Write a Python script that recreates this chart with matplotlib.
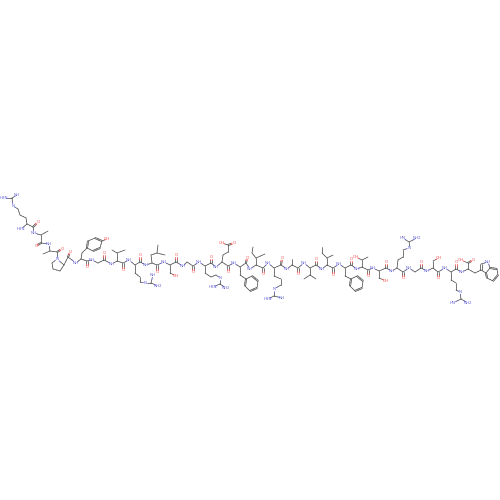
import matplotlib
matplotlib.use("Agg")
import matplotlib.pyplot as plt
import numpy as np

# Backbone atoms N, CA, C per residue (depiction coordinates)
residues = ["Arg","Ala","Ala","Pro","Tyr","Gly","Val","Arg","Leu","Ser","Gly","Arg","Glu","Phe",
            "Ile","Arg","Ala","Val","Ile","Phe","Thr","Ser","Arg","Gly","Ser","Arg","Trp"]
n_x  = [21,34,49,57,76,92,112,129,146,164,183,199,216,234,250,268,287,304,322,339,357,373,392,409,427,445,462]
n_y  = [229,233,244,259,263,260,264,260,265,262,266,262,267,263,269,263,269,263,269,264,269,268,271,268,271,268,272]
ca_x = [27,41,50,64,81,98,117,135,152,170,187,205,222,240,256,274,292,310,327,345,362,379,397,415,433,451,468]
ca_y = [224,235,251,265,259,263,261,265,263,265,262,266,262,267,265,268,265,268,265,268,267,271,268,272,268,272,269]
c_x  = [33,41,57,68,87,104,123,140,157,176,193,211,228,246,263,281,298,316,333,351,368,386,403,421,438,456,468]
c_y  = [227,243,252,257,261,260,263,262,265,262,266,263,266,263,268,265,268,265,268,265,270,268,272,268,272,269,263]
o_x  = [38,36,62,70,87,104,123,140,157,176,193,211,228,247,263,282,298,316,333,351,368,386,403,421,438,456,473]
o_y  = [222,246,249,252,267,253,270,255,272,255,272,257,272,258,274,258,274,259,275,259,276,262,278,262,278,262,260]

# Side chains: polylines that start at the alpha carbon
side_chains = [
 ([27,26,20,18,13,12],[224,218,215,209,206,198],"CCCCNC"),
 ([41,48],[235,231],"CC"),
 ([50,43],[251,254],"CC"),
 ([57,52,53,60,64],[259,263,269,271,265],"NCCCC"),
 ([81,82,87],[259,253,248],"CCC"),
 ([117,117,112],[261,253,250],"CCC"),
 ([117,125],[253,250],"CC"),
 ([135,135,140,140,145,151],[265,273,277,282,283,283],"CCCCNC"),
 ([152,151,157,158],[263,255,253,245],"CCCC"),
 ([157,165],[253,255],"CC"),
 ([170,170,176],[265,273,276],"CCO"),
 ([205,205,211,216,220,220],[266,273,277,275,278,284],"CCCCNC"),
 ([222,223,228,228,222],[262,255,252,245,243],"CCCCO"),
 ([240,240,246],[267,275,279],"CCC"),
 ([256,256,252,253],[265,258,253,247],"CCCC"),
 ([256,265],[258,254],"CC"),
 ([274,274,281,281,274,274],[268,276,279,285,289,296],"CCCCNC"),
 ([292,292],[265,259],"CC"),
 ([310,310,304],[268,275,279],"CCC"),
 ([310,316],[275,279],"CC"),
 ([327,327,322,322],[265,258,253,247],"CCCC"),
 ([327,333],[258,255],"CC"),
 ([345,345,351],[268,276,279],"CCC"),
 ([362,362,356],[267,260,257],"CCO"),
 ([362,368],[260,257],"CC"),
 ([379,379,386],[271,278,281],"CCO"),
 ([397,398,403,403,409,409],[268,260,257,250,248,242],"CCCCNC"),
 ([433,433,439],[268,261,258],"CCO"),
 ([451,451,456,456,460,461],[272,280,283,290,292,299],"CCCCNC"),
 ([468,475,481],[269,273,270],"CCC"),
 ([468,461],[263,260],"CO"),
]
# Guanidine arms: centre carbon x, y; terminal nitrogen positions
gua_x  = [12,151,220,274,409,461]
gua_y  = [198,283,284,296,242,299]
arm1_x = [4,153,213,268,403,453]
arm1_y = [198,275,287,299,238,303]
arm2_x = [17,158,226,282,417,468]
arm2_y = [195,286,288,298,238,303]
arm1_txt = ["H2N","NH","H2N","H2N","HN","HN"]
arm2_txt = ["NH","NH2","NH2","NH","NH2","NH2"]

# Six-membered aromatic rings (vertices in order)
ring_x = [[87,88,95,102,100,93],[246,245,250,257,258,252],[351,350,355,362,363,357],[490,497,498,493,487,486]]
ring_y = [[248,241,238,241,248,251],[279,286,291,288,281,276],[279,286,291,288,281,276],[268,269,275,281,278,273]]
# Indole five-membered ring: CG, C2, NH, C7a, C3a
trp_x = [481,481,488,490,486]
trp_y = [270,264,262,268,273]
# Tyr hydroxyl and Glu acid oxygen
tyr_oh_x, tyr_oh_y = [102,107],[241,239]
glu_o_x, glu_o_y = [228,234],[245,243]

NCOL, OCOL, CCOL = "#4848c8", "#f03030", "#444444"
COL = {"C":CCOL,"N":NCOL,"O":OCOL}
LW = 0.5

fig = plt.figure(figsize=(5,5),dpi=100)
ax = fig.add_axes([0,0,1,1])
ax.set_xlim(0,500); ax.set_ylim(500,0); ax.axis("off")

def bond(x1,y1,e1,x2,y2,e2,order=1):
    p=np.array([x1,y1],float); q=np.array([x2,y2],float)
    d=q-p; L=np.hypot(*d) or 1
    nrm=np.array([-d[1],d[0]])/L
    offs=[0] if order==1 else [-0.6,0.6]
    m=(p+q)/2
    a=p+d*(0.3 if e1!="C" else 0); b=q-d*(0.3 if e2!="C" else 0)
    for o in offs:
        ax.plot([a[0]+nrm[0]*o,m[0]+nrm[0]*o],[a[1]+nrm[1]*o,m[1]+nrm[1]*o],color=COL[e1],lw=LW,solid_capstyle="round")
        ax.plot([m[0]+nrm[0]*o,b[0]+nrm[0]*o],[m[1]+nrm[1]*o,b[1]+nrm[1]*o],color=COL[e2],lw=LW,solid_capstyle="round")

def label(x,y,s,c):
    ax.text(x,y,s,color=c,fontsize=2.9,ha="center",va="center",family="DejaVu Sans",alpha=.85)

for i in range(len(residues)):
    bond(n_x[i],n_y[i],"N",ca_x[i],ca_y[i],"C")
    bond(ca_x[i],ca_y[i],"C",c_x[i],c_y[i],"C")
    bond(c_x[i],c_y[i],"C",o_x[i],o_y[i],"O",2)
    if i+1<len(residues):
        bond(c_x[i],c_y[i],"C",n_x[i+1],n_y[i+1],"N")
    if i==0:
        label(n_x[i],n_y[i],"H2N",NCOL)
    elif residues[i]=="Pro":
        label(n_x[i],n_y[i],"N",NCOL)
    else:
        label(n_x[i],n_y[i],"NH",NCOL)
    label(o_x[i],o_y[i],"O",OCOL)

for xs,ys,es in side_chains:
    for j in range(len(xs)-1):
        bond(xs[j],ys[j],es[j],xs[j+1],ys[j+1],es[j+1])
    if es[-1]=="O":
        label(xs[-1],ys[-1],"OH",OCOL)
    if es.endswith("NC"):
        label(xs[-2],ys[-2],"N",NCOL)

for i in range(len(gua_x)):
    bond(gua_x[i],gua_y[i],"C",arm1_x[i],arm1_y[i],"N")
    bond(gua_x[i],gua_y[i],"C",arm2_x[i],arm2_y[i],"N")
    label(arm1_x[i],arm1_y[i],arm1_txt[i],NCOL)
    label(arm2_x[i],arm2_y[i],arm2_txt[i],NCOL)

for xs,ys in zip(ring_x,ring_y):
    m=len(xs)
    for j in range(m):
        bond(xs[j],ys[j],"C",xs[(j+1)%m],ys[(j+1)%m],"C",2 if j%2==0 else 1)

bond(tyr_oh_x[0],tyr_oh_y[0],"C",tyr_oh_x[1],tyr_oh_y[1],"O"); label(tyr_oh_x[1],tyr_oh_y[1],"OH",OCOL)
bond(glu_o_x[0],glu_o_y[0],"C",glu_o_x[1],glu_o_y[1],"O",2); label(glu_o_x[1],glu_o_y[1],"O",OCOL)

bond(trp_x[0],trp_y[0],"C",trp_x[1],trp_y[1],"C",2)
bond(trp_x[1],trp_y[1],"C",trp_x[2],trp_y[2],"N")
bond(trp_x[2],trp_y[2],"N",trp_x[3],trp_y[3],"C")
bond(trp_x[4],trp_y[4],"C",trp_x[0],trp_y[0],"C")
label(trp_x[2],trp_y[2],"NH",NCOL)

fig.savefig("out.png",dpi=100,facecolor="white")
